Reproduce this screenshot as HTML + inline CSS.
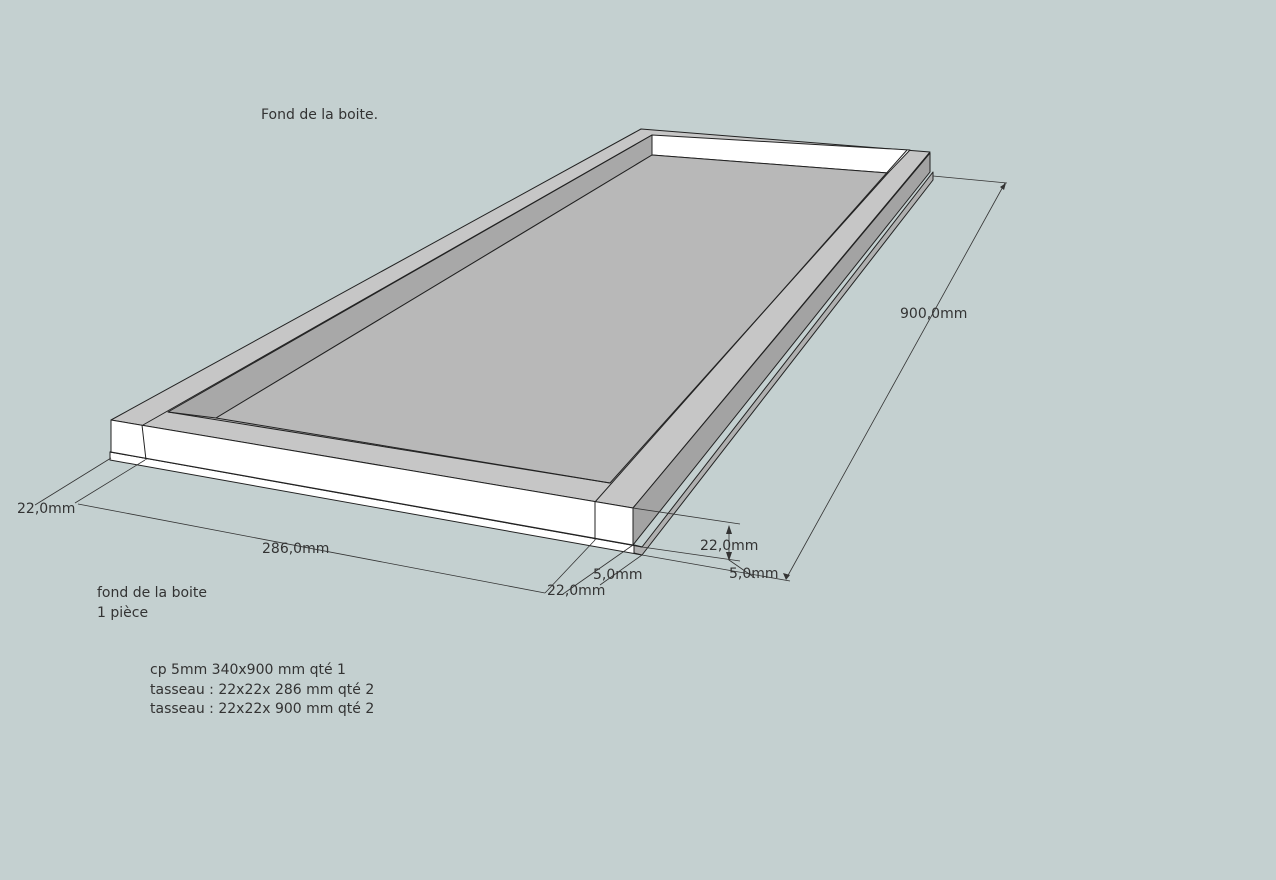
<!DOCTYPE html>
<html><head><meta charset="utf-8"><style>
body{margin:0;background:#c4d0d0;}
svg{display:block}
text{font-family:"DejaVu Sans","Liberation Sans",sans-serif;font-size:14px;fill:#333}
</style></head><body>
<svg width="1276" height="880" viewBox="0 0 1276 880" xmlns="http://www.w3.org/2000/svg">
<rect width="1276" height="880" fill="#c4d0d0"/>
<g stroke="#222" stroke-width="1" stroke-linejoin="round">
<!-- plywood -->
<polygon points="110,452 642,547 642,555 110,460" fill="#fff"/>
<polygon points="634,545 642,547 933,172 933,180 642,555 634,553" fill="#b0b0b0"/>
<polygon points="110,452 115,450 634,545 642,547" fill="#ccc"/>
<!-- top frame -->
<polygon points="111,420 641,129 930,152 633,508" fill="#c6c6c6"/>
<polygon points="652,135 910,150 888,173 652,155" fill="#fff"/>
<polygon points="168,412 652,135 652,155 216,418" fill="#a8a8a8"/>
<polygon points="216,418 652,155 888,173 610,483" fill="#b8b8b8"/>
<line x1="143" y1="425" x2="652" y2="135"/>
<line x1="168" y1="412" x2="610" y2="483"/>
<line x1="595" y1="502" x2="907" y2="150"/>
<!-- right side face -->
<polygon points="633,508 930,153 930,172 633,545" fill="#a3a3a3"/>
<!-- front face -->
<polygon points="111,420 633,508 633,545 111,452" fill="#fff"/>
<line x1="142" y1="425" x2="146" y2="460"/>
<line x1="595" y1="502" x2="595" y2="540"/>
</g>
<!-- dimensions -->
<g stroke="#333" stroke-width="0.8" fill="none">
<line x1="933" y1="176" x2="1007" y2="183"/>
<line x1="642" y1="555" x2="790" y2="581"/>
<line x1="1005" y1="183" x2="786" y2="579"/>
<line x1="111" y1="458" x2="35" y2="505"/>
<line x1="145" y1="460" x2="75" y2="503"/>
<line x1="78" y1="504" x2="545" y2="593"/>
<line x1="595" y1="540" x2="545" y2="593"/>
<line x1="633" y1="545" x2="563" y2="594"/>
<line x1="642" y1="555" x2="600" y2="585"/>
<line x1="633" y1="508" x2="740" y2="524"/>
<line x1="642" y1="547" x2="740" y2="561"/>
<line x1="729" y1="526" x2="729" y2="560"/>
<line x1="729" y1="560" x2="755" y2="578"/>
</g>
<g fill="#333">
<polygon points="729,525 726,534 732,534"/>
<polygon points="729,561 726,552 732,552"/>
<polygon points="786,580 783,573 790,575"/>
<polygon points="1006,183 1000,187 1004,190"/>
</g>
<text x="261" y="119">Fond de la boite.</text>
<text x="900" y="318">900,0mm</text>
<text x="262" y="553">286,0mm</text>
<text x="17" y="513">22,0mm</text>
<text x="547" y="595">22,0mm</text>
<text x="700" y="550">22,0mm</text>
<text x="593" y="579">5,0mm</text>
<text x="729" y="578">5,0mm</text>
<text x="97" y="597">fond de la boite</text>
<text x="97" y="617">1 pièce</text>
<text x="150" y="674">cp 5mm  340x900 mm qté 1</text>
<text x="150" y="694">tasseau : 22x22x 286 mm qté 2</text>
<text x="150" y="713">tasseau : 22x22x 900 mm qté 2</text>
</svg>
</body></html>
